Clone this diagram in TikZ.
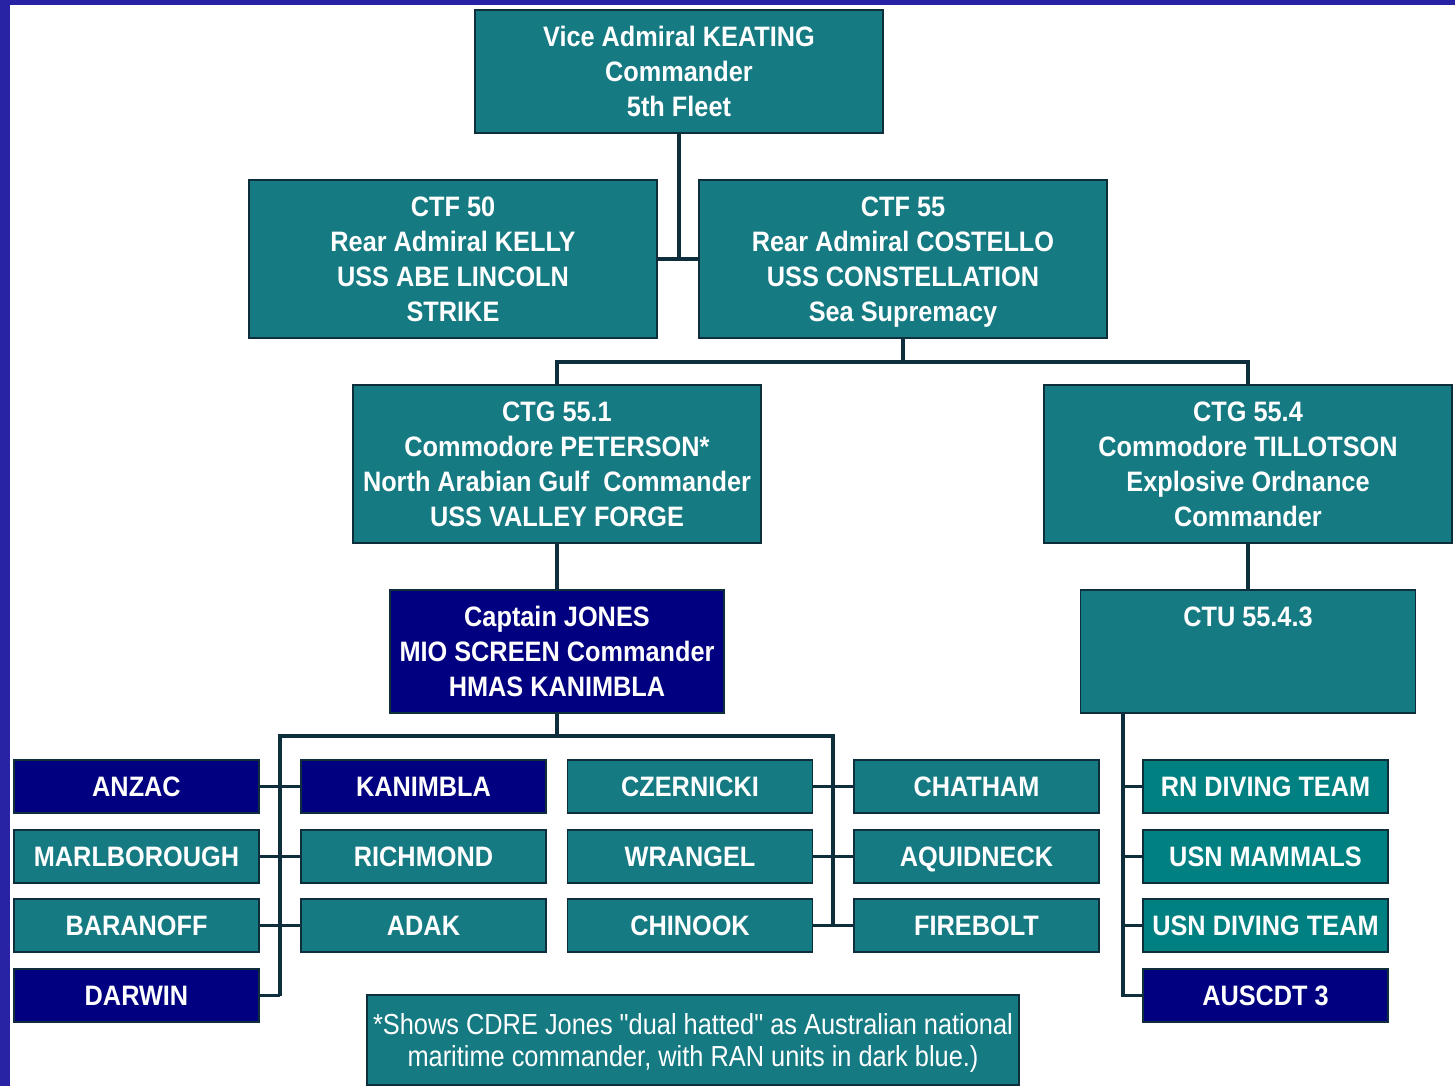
\documentclass[tikz,border=0pt]{standalone}
\usepackage{fontspec}
\setmainfont[FakeStretch=0.9]{Liberation Sans}
\newfontfamily\notefont[FakeStretch=0.875,Ligatures=TeXOff]{Liberation Sans}
\usetikzlibrary{positioning}
\definecolor{FleetTeal}{HTML}{157A82}
\definecolor{FleetTealB}{HTML}{008080}
\definecolor{FleetBlue}{HTML}{000080}
\definecolor{FleetLine}{HTML}{0E2E3C}
\definecolor{FleetBack}{HTML}{2823A4}

\begin{document}
\begin{tikzpicture}[x=0.02cm,y=-0.02cm,
  font=\bfseries\fontsize{16}{19.8}\selectfont,
  cmd/.style={draw=FleetLine,line width=1pt,fill=FleetTeal,text=white,align=center,inner sep=0pt,text depth=0pt,minimum width=8.16cm,minimum height=3.16cm},
  top/.style={cmd,minimum height=2.46cm},
  ran/.style={cmd,fill=FleetBlue,minimum width=6.68cm,minimum height=2.46cm},
  unit/.style={cmd,minimum width=4.9cm,minimum height=1.06cm},
  ranunit/.style={unit,fill=FleetBlue},
  team/.style={unit,fill=FleetTealB},
  wire/.style={draw=FleetLine,line width=2.2pt}]
  % page with the blue frame
  \fill[FleetBack] (0,0) rectangle (1455,1086);
  \fill[white] (10,5) rectangle (1455,1086);
  \useasboundingbox (0,0) rectangle (1455,1086);

  \node[top] (va) at (679,71.5) {Vice Admiral KEATING\\Commander\\5th Fleet};
  \node[cmd] (ctf50) at (453,259) {CTF 50\\Rear Admiral KELLY\\USS ABE LINCOLN\\STRIKE};
  \node[cmd] (ctf55) at (903,259) {CTF 55\\Rear Admiral COSTELLO\\USS CONSTELLATION\\Sea Supremacy};
  \node[cmd] (ctg551) at (557,464) {CTG 55.1\\Commodore PETERSON*\\North Arabian Gulf\ \ Commander\\USS VALLEY FORGE};
  \node[cmd] (ctg554) at (1248,464) {CTG 55.4\\Commodore TILLOTSON\\Explosive Ordnance\\Commander};
  \node[ran] (jones) at (557,651.5) {Captain JONES\\MIO SCREEN Commander\\HMAS KANIMBLA};
  \node[top,minimum width=6.7cm] (ctu) at (1248,651.5) {CTU 55.4.3\\\mbox{}\\\mbox{}};

  % MIO screen units
  \node[ranunit] (anzac) at (136.5,786.5) {ANZAC};
  \node[unit] (marlborough) at (136.5,856.5) {MARLBOROUGH};
  \node[unit] (baranoff) at (136.5,925.5) {BARANOFF};
  \node[ranunit] (darwin) at (136.5,995.5) {DARWIN};
  \node[ranunit] (kanimbla) at (423.5,786.5) {KANIMBLA};
  \node[unit] (richmond) at (423.5,856.5) {RICHMOND};
  \node[unit] (adak) at (423.5,925.5) {ADAK};
  \node[unit] (czernicki) at (690,786.5) {CZERNICKI};
  \node[unit] (wrangel) at (690,856.5) {WRANGEL};
  \node[unit] (chinook) at (690,925.5) {CHINOOK};
  \node[unit] (chatham) at (976.5,786.5) {CHATHAM};
  \node[unit] (aquidneck) at (976.5,856.5) {AQUIDNECK};
  \node[unit] (firebolt) at (976.5,925.5) {FIREBOLT};

  % EOD units
  \node[team] (rndive) at (1265.5,786.5) {RN DIVING TEAM};
  \node[team] (usnmam) at (1265.5,856.5) {USN MAMMALS};
  \node[team] (usndive) at (1265.5,925.5) {USN DIVING TEAM};
  \node[team,fill=FleetBlue] (auscdt) at (1265.5,995.5) {AUSCDT 3};

  \node[cmd,font=\notefont\fontsize{16.5}{18.7}\selectfont,minimum width=13.04cm,minimum height=1.8cm] (note) at (693,1040)
    {*Shows CDRE Jones "dual hatted" as Australian national\\maritime commander, with RAN units in dark blue.)};

  % connectors
  \draw[wire] (va.south) -- (va.south |- ctf50.east);
  \draw[wire] (ctf50.east) -- (ctf55.west);
  \draw[wire] (ctf55.south) -- ++(0,23) -| (ctg551.north);
  \draw[wire] (ctf55.south) -- ++(0,23) -| (ctg554.north);
  \draw[wire] (ctg551.south) -- (jones.north);
  \draw[wire] (ctg554.south) -- (ctu.north);

  \coordinate (spineL) at (280,736);
  \coordinate (spineR) at (833,736);
  \draw[wire] (jones.south) -- (jones.south |- spineL);
  \draw[wire] (spineL |- darwin.east) -- (spineL) -- (spineR) -- (spineR |- firebolt.west);
  \draw[wire] (darwin.east) -- (spineL |- darwin.east);
  \draw[wire] (anzac.east) -- (kanimbla.west);
  \draw[wire] (marlborough.east) -- (richmond.west);
  \draw[wire] (baranoff.east) -- (adak.west);
  \draw[wire] (czernicki.east) -- (chatham.west);
  \draw[wire] (wrangel.east) -- (aquidneck.west);
  \draw[wire] (chinook.east) -- (firebolt.west);

  \coordinate (spineU) at (1123,713);
  \draw[wire] (spineU) |- (auscdt.west);
  \draw[wire] (spineU |- rndive.west) -- (rndive.west);
  \draw[wire] (spineU |- usnmam.west) -- (usnmam.west);
  \draw[wire] (spineU |- usndive.west) -- (usndive.west);
\end{tikzpicture}
\end{document}
